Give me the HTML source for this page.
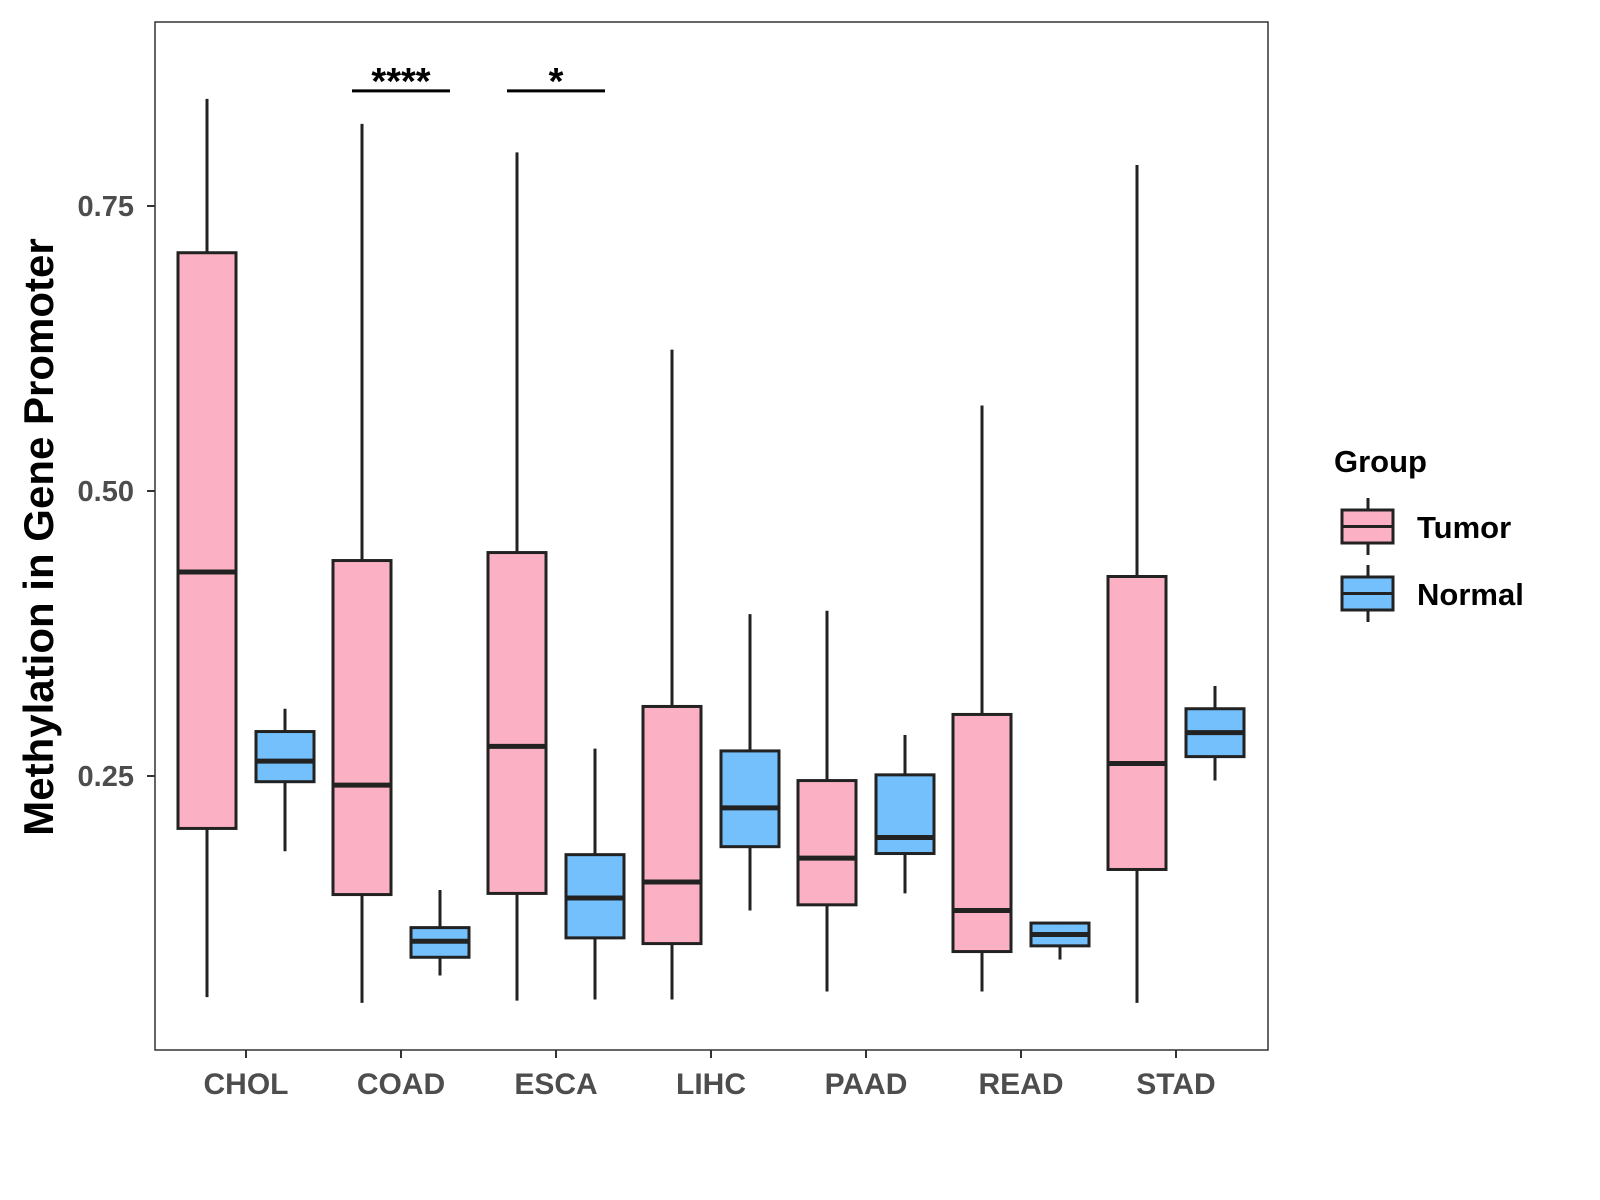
<!DOCTYPE html>
<html><head><meta charset="utf-8"><style>
html,body{margin:0;padding:0;background:#fff;}
svg{display:block;font-family:"Liberation Sans",Arial,sans-serif;font-weight:bold;}
</style></head><body>
<svg id="chart" width="1600" height="1200" viewBox="0 0 1600 1200">
<rect x="155" y="22" width="1113" height="1028" fill="#fff" stroke="#333" stroke-width="1.5"/>
<g id="marks"></g>
<g id="axes"></g>
<text x="0" y="0" transform="translate(53,537) rotate(-90)" text-anchor="middle" font-size="42" fill="#000">Methylation in Gene Promoter</text>
<g>
<text x="1334" y="472" font-size="31" fill="#000">Group</text>
<g>
<line x1="1368" y1="498" x2="1368" y2="555" stroke="#222" stroke-width="3"/>
<rect x="1342" y="510" width="51" height="33" fill="#FBB1C3" stroke="#222" stroke-width="3"/>
<line x1="1342" y1="526.5" x2="1393" y2="526.5" stroke="#222" stroke-width="3"/>
<text x="1417" y="538" font-size="31" fill="#000">Tumor</text>
</g>
<g>
<line x1="1368" y1="565" x2="1368" y2="622" stroke="#222" stroke-width="3"/>
<rect x="1342" y="577" width="51" height="33" fill="#74C0FC" stroke="#222" stroke-width="3"/>
<line x1="1342" y1="593.5" x2="1393" y2="593.5" stroke="#222" stroke-width="3"/>
<text x="1417" y="605" font-size="31" fill="#000">Normal</text>
</g>
</g>
</svg>
<script>
const categories = ["CHOL","COAD","ESCA","LIHC","PAAD","READ","STAD"];
// [low, q1, median, q3, high]
const tumorStats = [
 [0.056,0.204,0.429,0.709,0.844],
 [0.051,0.146,0.242,0.439,0.822],
 [0.053,0.147,0.276,0.446,0.797],
 [0.054,0.103,0.157,0.311,0.624],
 [0.061,0.137,0.178,0.246,0.395],
 [0.061,0.096,0.132,0.304,0.575],
 [0.051,0.168,0.261,0.425,0.786]];
const normalStats = [
 [0.184,0.245,0.263,0.289,0.309],
 [0.075,0.091,0.105,0.117,0.150],
 [0.054,0.108,0.143,0.181,0.274],
 [0.132,0.188,0.222,0.272,0.392],
 [0.147,0.182,0.196,0.251,0.286],
 [0.089,0.101,0.111,0.121,0.122],
 [0.246,0.267,0.288,0.309,0.329]];
const yTicks = [0.25,0.50,0.75];
const yTickLabels = ["0.25","0.50","0.75"];
const sigCategories = ["COAD","ESCA"];
const sigLabels = ["****","*"];
const sigLevel = 0.851;

const NS="http://www.w3.org/2000/svg";
function y(v){return 491-(v-0.5)*1140;}
function x(i){return 246+i*155;}
function mk(t,a,p){const e=document.createElementNS(NS,t);for(const k in a)e.setAttribute(k,a[k]);p.appendChild(e);return e;}
const marks=document.getElementById('marks'), axes=document.getElementById('axes');
function box(cx,s,fill,name){
 const g=mk('g',{},marks);
 
 
 mk('line',{x1:cx,x2:cx,y1:y(s[4]),y2:y(s[0]),stroke:'#222','stroke-width':3},g);
 mk('rect',{x:cx-29,y:y(s[3]),width:58,height:y(s[1])-y(s[3]),fill:fill,stroke:'#222','stroke-width':3},g);
 mk('line',{x1:cx-29,x2:cx+29,y1:y(s[2]),y2:y(s[2]),stroke:'#222','stroke-width':5},g);
}
categories.forEach((c,i)=>{
 box(x(i)-39,tumorStats[i],'#FBB1C3','box-tumor-'+c.toLowerCase());
 box(x(i)+39,normalStats[i],'#74C0FC','box-normal-'+c.toLowerCase());
 mk('line',{x1:x(i),x2:x(i),y1:1050,y2:1058,stroke:'#333','stroke-width':2},axes);
 const t=mk('text',{x:x(i),y:1094,'text-anchor':'middle','font-size':30,fill:'#4d4d4d'},axes);
 t.textContent=c;
 
 
});
yTicks.forEach((v,i)=>{
 mk('line',{x1:147,x2:155,y1:y(v),y2:y(v),stroke:'#333','stroke-width':2},axes);
 const t=mk('text',{x:134,y:y(v)+10,'text-anchor':'end','font-size':29,fill:'#4d4d4d'},axes);
 t.textContent=yTickLabels[i];
 
 
});
sigCategories.forEach((c,k)=>{
 const i=categories.indexOf(c);
 mk('line',{x1:x(i)-49,x2:x(i)+49,y1:y(sigLevel),y2:y(sigLevel),stroke:'#000','stroke-width':3},marks);
 const t=mk('text',{x:x(i),y:y(sigLevel)+3,'text-anchor':'middle','font-size':38,fill:'#000'},marks);
 t.textContent=sigLabels[k];
 
 
});
</script>
</body></html>
